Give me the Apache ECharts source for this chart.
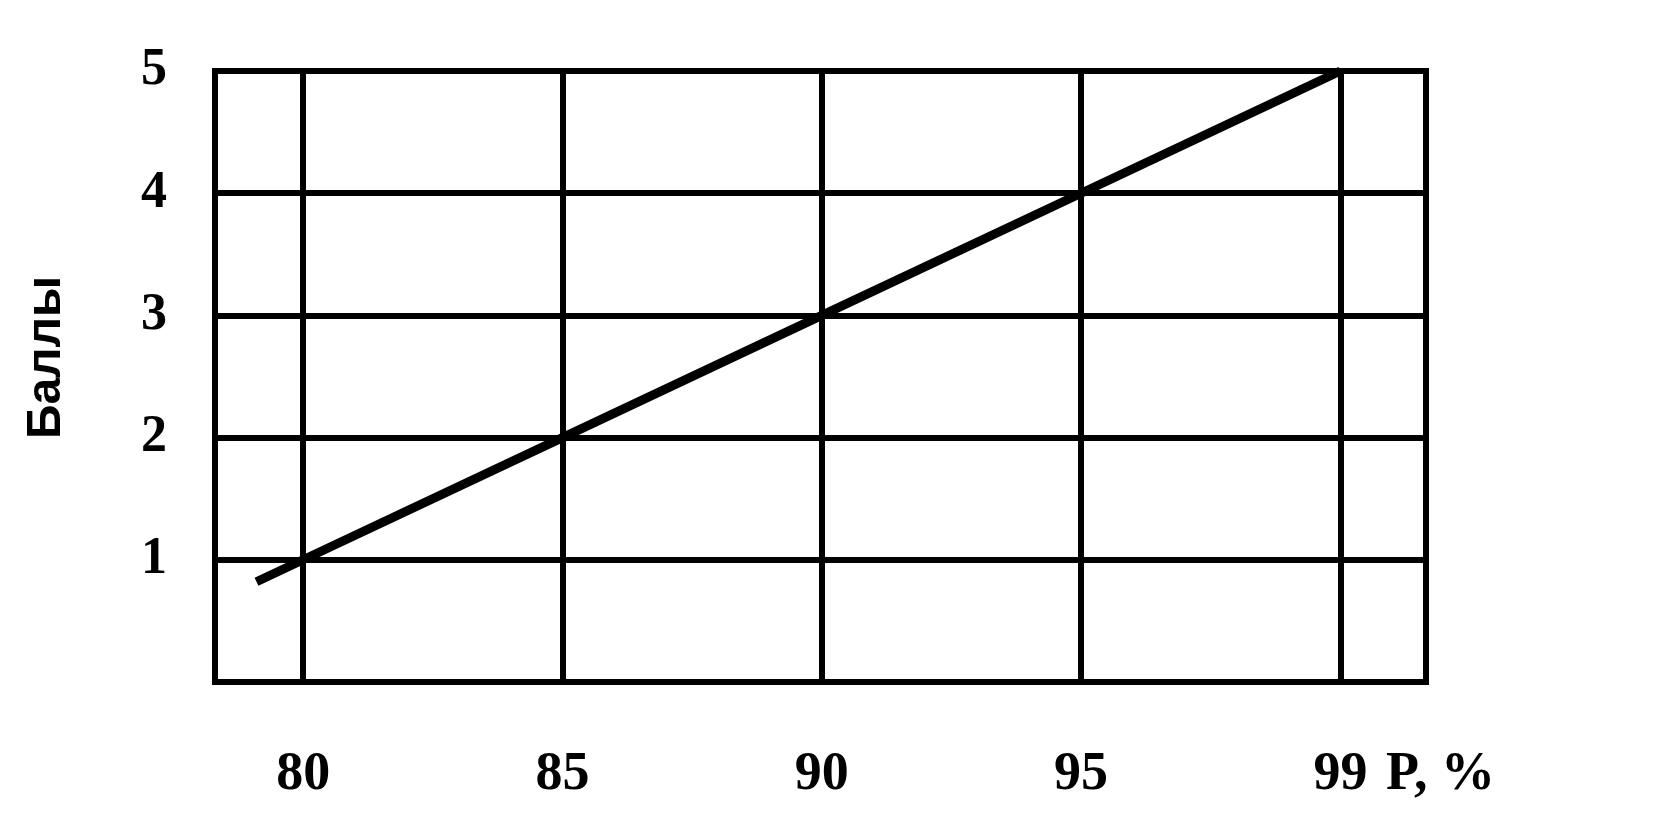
<!DOCTYPE html>
<html>
<head>
<meta charset="utf-8">
<script src="https://cdn.jsdelivr.net/npm/echarts@6/dist/echarts.min.js"></script>
<style>
html,body{margin:0;padding:0;background:#fff;}
#c{width:1657px;height:829px;}
</style>
</head>
<body>
<div id="c"></div>
<script>
// Tick labels (categories of P, %), equally spaced on the axis
const xLabels = ['80', '85', '90', '95', '99'];
const xTickPos = [0, 1, 2, 3, 4];
// Line points: position along axis (index of category) and score
const linePos = [-0.18, 0, 1, 2, 3, 4];
const scores = [0.82, 1, 2, 3, 4, 5];
const yTicks = [1, 2, 3, 4, 5];

const chart = echarts.init(document.getElementById('c'), null, {renderer: 'canvas'});
const serif = '"Liberation Serif", "DejaVu Serif", serif';
chart.setOption({
  animation: false,
  backgroundColor: '#fff',
  grid: {left: 215, right: 231, top: 71, bottom: 147, show: true, borderColor: '#000', borderWidth: 6},
  xAxis: {
    type: 'value',
    min: -0.34, max: 4.33,
    name: 'P, %',
    nameLocation: 'end',
    nameGap: -40,
    nameTextStyle: {fontFamily: serif, fontWeight: 'bold', fontSize: 54, color: '#000', align: 'left', verticalAlign: 'top', padding: [66, 0, 0, 0]},
    axisLine: {show: true, lineStyle: {color: '#000', width: 6}},
    axisTick: {show: false, customValues: xTickPos},
    axisLabel: {
      customValues: xTickPos,
      formatter: v => xLabels[Math.round(v)],
      fontFamily: serif, fontWeight: 'bold', fontSize: 54, color: '#000', margin: 66
    },
    splitLine: {show: true, lineStyle: {color: '#000', width: 6}}
  },
  yAxis: {
    type: 'value',
    min: 0, max: 5, interval: 1,
    name: 'Баллы',
    nameLocation: 'middle',
    nameRotate: 90,
    nameGap: 144,
    nameTextStyle: {fontFamily: '"Liberation Sans", Arial, sans-serif', fontWeight: 'bold', fontSize: 48, color: '#000', padding: [0, 0, 0, 38]},
    axisLine: {show: true, lineStyle: {color: '#000', width: 6}},
    axisTick: {show: false},
    axisLabel: {
      customValues: yTicks,
      fontFamily: serif, fontWeight: 'bold', fontSize: 52, color: '#000', margin: 48
    },
    splitLine: {show: true, lineStyle: {color: '#000', width: 6}}
  },
  series: [{
    type: 'line',
    data: linePos.map((p, i) => [p, scores[i]]),
    showSymbol: false,
    lineStyle: {color: '#000', width: 9},
    silent: true
  }]
});
</script>
</body>
</html>
